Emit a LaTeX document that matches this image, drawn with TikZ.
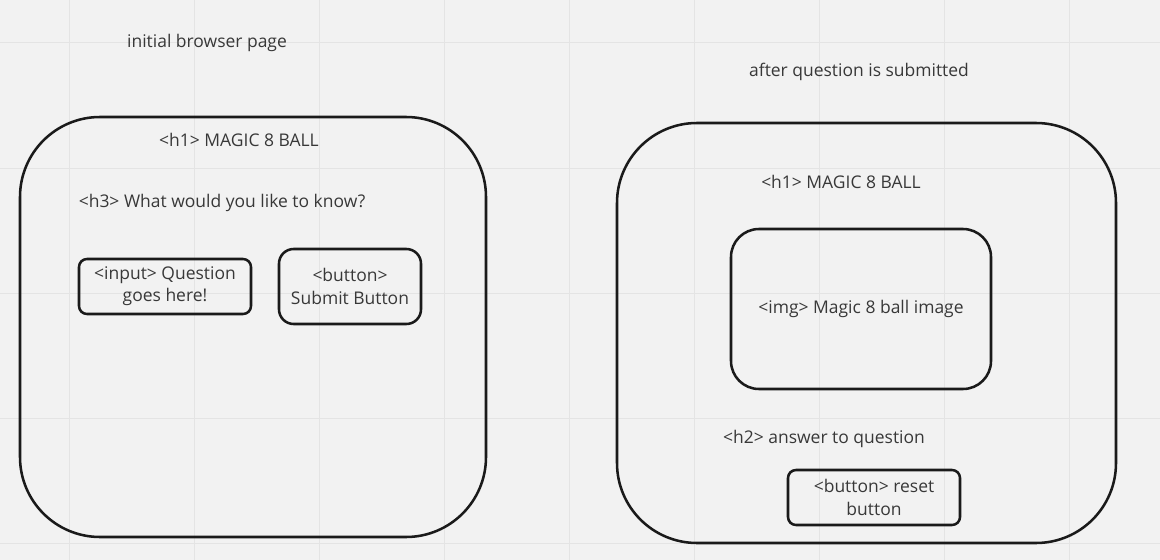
\documentclass[tikz,border=0pt]{standalone}
\usepackage{fontspec}
\setmainfont{Open Sans}
\usetikzlibrary{positioning}
\definecolor{boardbg}{HTML}{F2F2F2}
\definecolor{gridln}{HTML}{E4E4E4}
\definecolor{inkln}{HTML}{1A1A1A}
\definecolor{inktxt}{HTML}{383838}

\begin{document}
\begin{tikzpicture}[x=0.75pt, y=-0.75pt,
    page/.style={draw=inkln, line width=1.9pt, rounded corners=60pt, minimum width=#1, minimum height=315pt, inner sep=0pt},
    elem/.style={draw=inkln, line width=1.9pt, rounded corners=6pt, minimum width=129pt, minimum height=41.25pt, inner sep=0pt, align=center, text=inktxt, font=\fontsize{13.1}{16.6}\selectfont},
    lbl/.style={text=inktxt, inner sep=0pt, font=\fontsize{13.1}{16.6}\selectfont}
]

% board and grid
\fill[boardbg] (0,0) rectangle (1160,560);
\useasboundingbox (0,0) rectangle (1160,560);
\foreach \gx in {69,194,...,1069} \draw[gridln, line width=0.75pt] (\gx,0) -- (\gx,560);
\foreach \gy in {43,168,...,543} \draw[gridln, line width=0.75pt] (0,\gy) -- (1160,\gy);

% initial page
\node[lbl] (titleA) at (207,43) {initial browser page};
\node[page=349.5pt] (pageA) at (253,327) {};
\node[lbl] (h1A) at (239,140) {<h1> MAGIC 8 BALL};
\node[lbl] (h3A) at (222,202.5) {<h3> What would you like to know?};
\node[elem] (input) at (165,286.5) {<input> Question\\goes here!};
\node[elem, rounded corners=11pt, minimum width=106.5pt, minimum height=56.25pt] (submit) at (350,286.5) {<button>\\Submit Button};

% after submit
\node[lbl] (titleB) at (859,72) {after question is submitted};
\node[page=374.25pt] (pageB) at (866.5,333) {};
\node[lbl] (h1B) at (841,182) {<h1> MAGIC 8 BALL};
\node[elem, rounded corners=21pt, minimum width=195pt, minimum height=120pt] (img) at (861,309) {<img> Magic 8 ball image};
\node[lbl] (h2B) at (824,439) {<h2> answer to question};
\node[elem] (reset) at (874,497.5) {<button> reset\\button};

\end{tikzpicture}
\end{document}
